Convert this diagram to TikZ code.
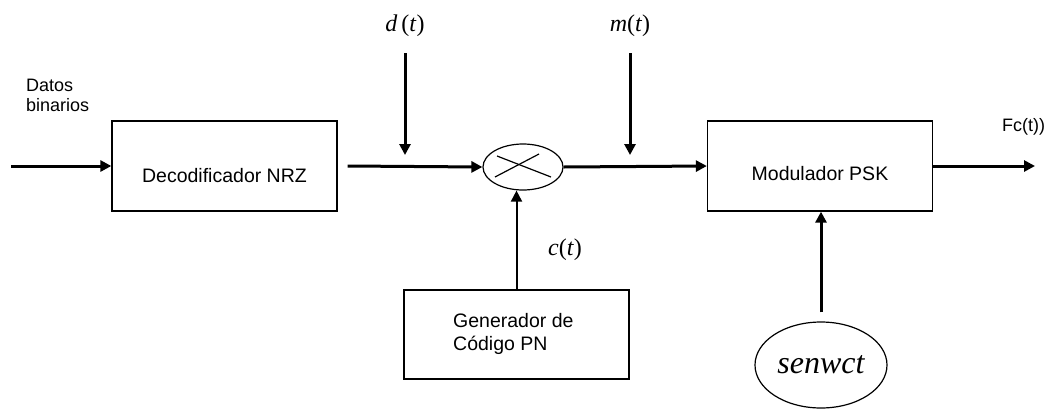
\documentclass[tikz,border=0pt]{standalone}
\usepackage{fontspec}
\setmainfont{Liberation Serif}
\newfontfamily\arialfont{Liberation Sans}
\usetikzlibrary{arrows.meta,shapes.geometric}
\begin{document}
\begin{tikzpicture}[x=1pt,y=-1pt,
  blk/.style={draw, line width=1.3pt, minimum width=225pt, minimum height=90pt, inner sep=0pt},
  lbl/.style={font=\arialfont\fontsize{19.5}{23}\selectfont, inner sep=0pt, align=left},
  smalllbl/.style={font=\arialfont\fontsize{18}{19.5}\selectfont, inner sep=0pt, align=left},
  sig/.style={font=\fontsize{24}{28}\selectfont, inner sep=0pt},
  tip/.style={-{Triangle[length=11pt,width=11pt]}},
  flow/.style={line width=3pt, tip},
  thinflow/.style={line width=2pt, tip},
  oval/.style={draw, ellipse, line width=1.2pt, inner sep=0pt}
]
\useasboundingbox (0,0) rectangle (1050,408);

% blocks
\node[blk] (dec) at (224.5,166) {};
\node[lbl] (dect) at (224.5,176) {Decodificador NRZ};
\node[blk] (mod) at (820,166) {};
\node[lbl] (modt) at (820,174) {Modulador PSK};
\node[blk, minimum height=89pt] (gen) at (516.5,334.5) {};
\node[lbl, anchor=west] (gent) at (453,333.5) {Generador de\\Código PN};

% multiplier
\node[oval, minimum width=80pt, minimum height=46pt] (mult) at (523,167) {};
\draw[line width=1.2pt] ([shift={(-28,10)}]mult.center) -- ([shift={(16,-13)}]mult.center);
\draw[line width=1.2pt] ([shift={(-26,-11)}]mult.center) -- ([shift={(28,10)}]mult.center);

% carrier
\node[oval, minimum width=132pt, minimum height=86pt,
      font=\itshape\fontsize{32}{36}\selectfont] (osc) at (821,365) {senwct};

% text labels
\node[smalllbl, anchor=west] (din) at (26,95.5) {Datos\\binarios};
\node[smalllbl, anchor=west] (fct) at (1002,127) {Fc(t))};
\node[sig] (dlab) at (405,26) {\textit{d}\,(\textit{t})};
\node[sig] (mlab) at (630,26) {\textit{m}(\textit{t})};
\node[sig] (clab) at (565,250) {\textit{c}(\textit{t})};

% free ends
\coordinate (in) at (11,166);
\coordinate (out) at (1035,166);
\coordinate (dtop) at (405,53);
\coordinate (dtip) at (405,155);
\coordinate (mtop) at (630,53);
\coordinate (mtip) at (630,155);

% connectors
\draw[flow] (in) -- (dec.west);
\draw[flow] ([xshift=10pt]dec.east) -- (mult.west);
\draw[flow] (mult.east) -- (mod.west);
\draw[flow] (mod.east) -- (out);
\draw[flow] (dtop) -- (dtip);
\draw[flow] (mtop) -- (mtip);
\draw[thinflow] (gen.north) -- (gen.north |- mult.south);
\draw[flow] ([yshift=9pt]osc.north) -- (osc.north |- mod.south);
\end{tikzpicture}
\end{document}
